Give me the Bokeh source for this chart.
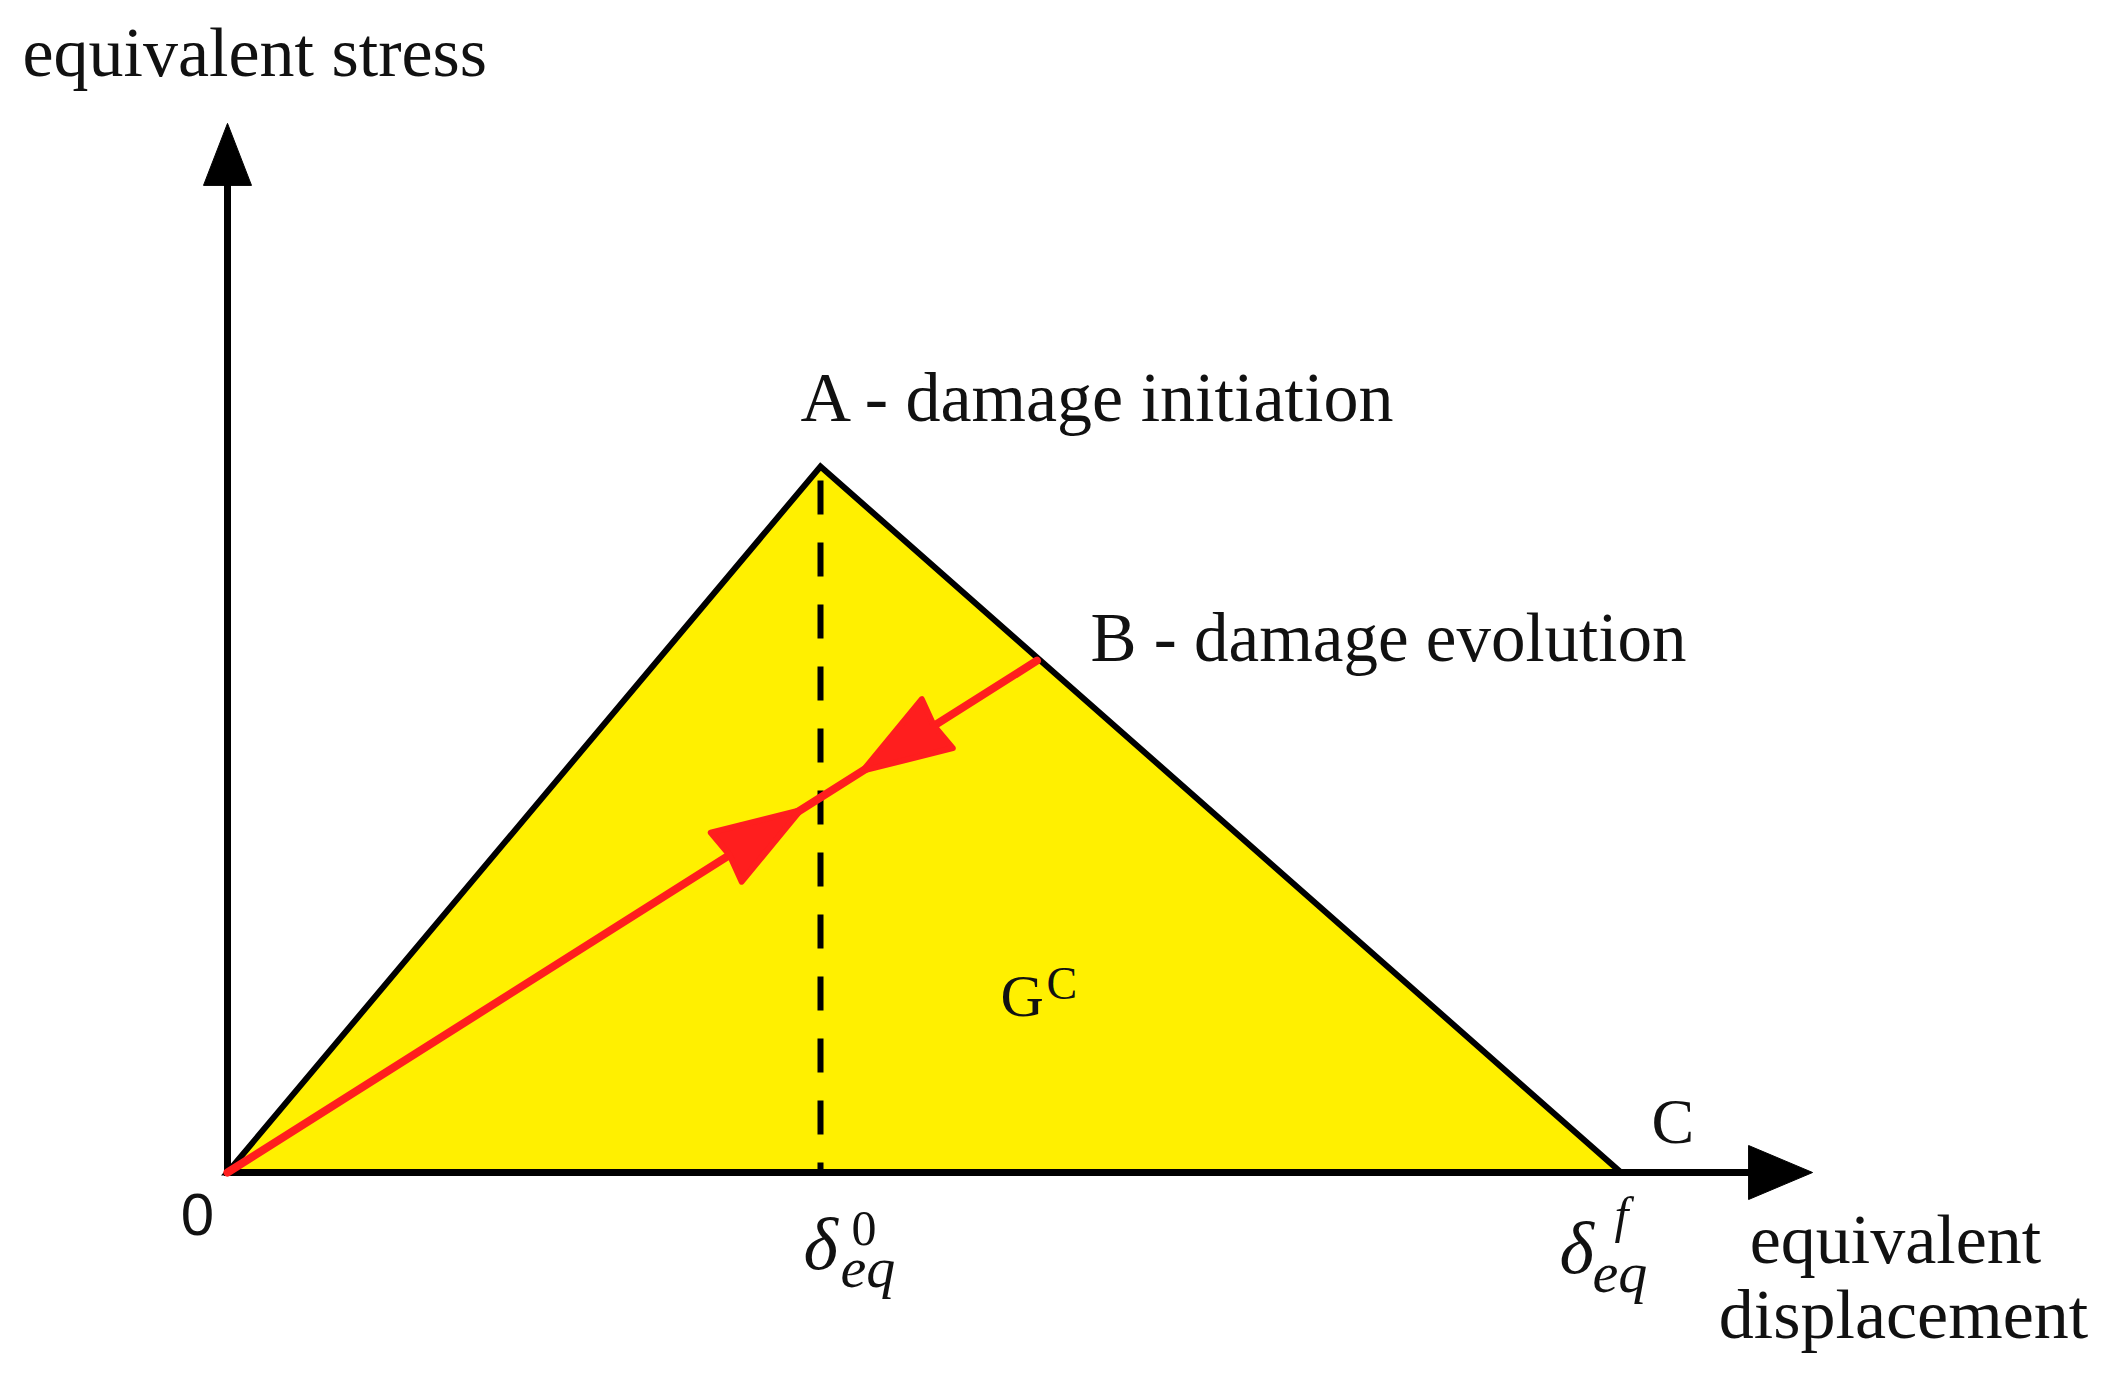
from bokeh.plotting import figure
from bokeh.models import Range1d
from bokeh.core.properties import value
from bokeh.embed import file_html
from bokeh.resources import INLINE

# ---------------- data (normalised units) ----------------
delta0 = 1.0            # δ_eq^0 : displacement at damage initiation (A)
deltaf = 2.35           # δ_eq^f : displacement at failure (C)
sigma_peak = 1.0        # peak equivalent stress (A)
point_B = [1.365, 0.725]  # unloading point on softening branch (B)
axis_x_end = 2.673
axis_y_end = 1.486

tri_x = [0.0, delta0, deltaf]
tri_y = [0.0, sigma_peak, 0.0]
red_x = [0.0, point_B[0]]
red_y = [0.0, point_B[1]]
arrow_fracs = [0.708, 0.785]   # arrow tips along 0-B (loading, unloading)
arrow_dirs = [1, -1]

# ---------------- layout ----------------
W, H = 2117, 1378
PX_X, PX_Y = 593.0, 706.0   # pixels per unit
OX, OY = 227.0, 1172.0      # screen position of the origin

def sx(X):
    return (X - OX) / PX_X

def sy(Y):
    return (OY - Y) / PX_Y

x_start = sx(0)
y_end = sy(0)
p = figure(width=W, height=H, output_backend="svg", toolbar_location=None,
           x_range=Range1d(x_start, x_start + W / PX_X),
           y_range=Range1d(y_end - H / PX_Y, y_end),
           x_axis_location=None, y_axis_location=None, min_border=0)
p.grid.visible = False
p.outline_line_color = None
p.background_fill_color = "white"
p.border_fill_color = "white"

BLACK = "#000000"
RED = "#FF1E1E"
YELLOW = "#FFF000"

# triangle (fracture energy area)
p.patch(tri_x, tri_y, fill_color=YELLOW, line_color=BLACK, line_width=6,
        line_join="miter")

# dashed line under A
p.line([delta0, delta0], [sigma_peak - 14 / PX_Y, 0.0], line_color=BLACK,
       line_width=6, line_dash="34 28")

# axes
def head(tip_x, tip_y, ux, uy, L, hw, notch=0.0):
    # ux, uy: unit direction in screen px (y up)
    nx, ny = -uy, ux
    bx = tip_x - L * ux / PX_X
    by = tip_y - L * uy / PX_Y
    mx = tip_x - (L - notch) * ux / PX_X
    my = tip_y - (L - notch) * uy / PX_Y
    xs = [tip_x, bx + hw * nx / PX_X, mx, bx - hw * nx / PX_X]
    ys = [tip_y, by + hw * ny / PX_Y, my, by - hw * ny / PX_Y]
    return xs, ys

p.line([0, 0], [0, axis_y_end - 60 / PX_Y], line_color=BLACK, line_width=7,
       line_cap="square")
p.line([0, axis_x_end - 62 / PX_X], [0, 0], line_color=BLACK, line_width=7,
       line_cap="square")
hx, hy = head(0.0, axis_y_end, 0.0, 1.0, 62, 24)
p.patch(hx, hy, fill_color=BLACK, line_color=BLACK, line_width=1)
hx, hy = head(axis_x_end, 0.0, 1.0, 0.0, 64, 27)
p.patch(hx, hy, fill_color=BLACK, line_color=BLACK, line_width=1)

# red loading / unloading path
p.line(red_x, red_y, line_color=RED, line_width=8, line_cap="round")
vx, vy = point_B[0] * PX_X, point_B[1] * PX_Y
ln = (vx ** 2 + vy ** 2) ** 0.5
ux, uy = vx / ln, vy / ln
for f, d in zip(arrow_fracs, arrow_dirs):
    tx, ty = point_B[0] * f, point_B[1] * f
    hx, hy = head(tx, ty, d * ux, d * uy, 88, 29, 4)
    p.patch(hx, hy, fill_color=RED, line_color=RED, line_width=6,
            line_join="round")

# ---------------- texts ----------------
SERIF = value("Liberation Serif")
TXT = "#111111"

def label(X, Y, s, size, align="left", style="normal", font=SERIF):
    # Y is the wanted baseline on screen; compensate Bokeh's baseline offset
    Yd = Y - 0.3 * size
    p.text(x=[sx(X)], y=[sy(Yd)], text=[s], text_font=font,
           text_font_size=value(f"{size}px"), text_align=align,
           text_baseline="alphabetic", text_color=TXT,
           text_font_style=style)

label(22, 73, "equivalent stress", 70)
label(800, 418, "A - damage initiation", 70)
label(1090, 658, "B - damage evolution", 69)
label(1651, 1140, "C", 64)
label(1895, 1260, "equivalent", 70, align="center")
label(1903, 1335, "displacement", 70, align="center")
label(197, 1232, "0", 60, align="center", font=value("Liberation Sans"))
label(1000, 1013, "G", 60)
label(1046, 997, "C", 46)
# δ_eq^0
label(803, 1266, "δ", 74, style="italic")
label(851, 1243, "0", 50)
label(840, 1284, "eq", 58, style="italic")
# δ_eq^f
label(1559, 1270, "δ", 74, style="italic")
label(1614, 1229, "f", 50, style="italic")
label(1592, 1289, "eq", 58, style="italic")

open("out.html", "w").write(file_html(p, INLINE))
